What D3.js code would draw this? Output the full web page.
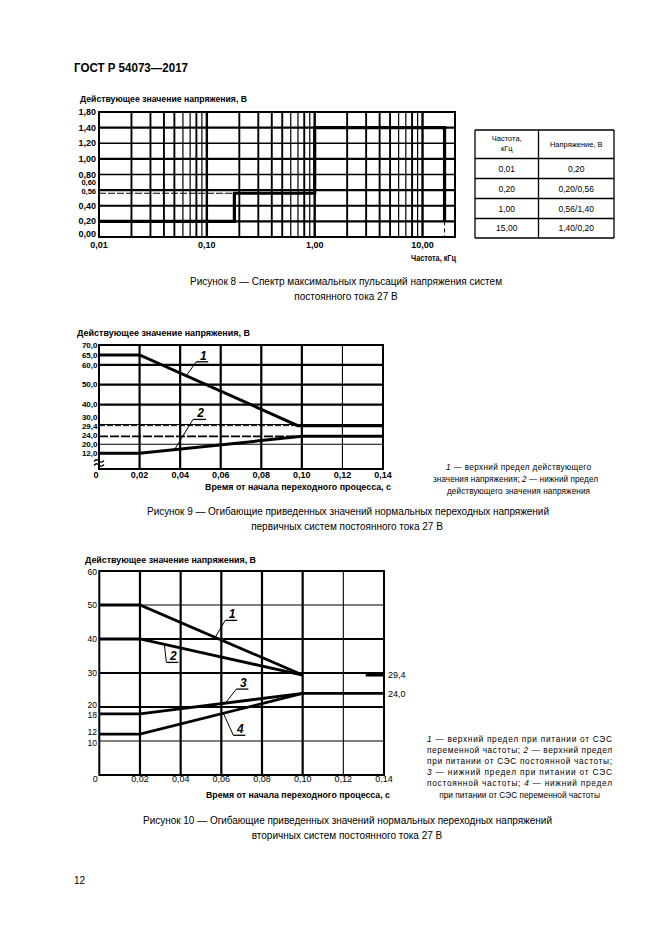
<!DOCTYPE html>
<html><head><meta charset="utf-8">
<script src="https://cdn.jsdelivr.net/npm/d3@7"></script>
<style>
body{margin:0;background:#fff;}
svg text{font-family:"Liberation Sans",Arial,"DejaVu Sans",sans-serif;fill:#000;}
svg text.cond{font-family:"Liberation Sans Narrow","Arial Narrow","Liberation Sans",sans-serif;font-weight:bold;}
</style></head><body>
<svg id="page" width="661" height="935"></svg>
<script>
// ================= DATA =================
// Figure 8 – spectrum of max voltage ripple
const fig8FreqTicks = [0.01, 0.1, 1, 10];
const fig8FreqLabels = ["0,01", "0,10", "1,00", "10,00"];
const fig8VoltTicks = [0, 0.2, 0.4, 0.56, 0.6, 0.8, 1.0, 1.2, 1.4, 1.6];
const fig8VoltLabels = ["0,00", "0,20", "0,40", "0,56", "0,60", "0,80", "1,00", "1,20", "1,40", "1,80"];
const fig8VoltGrid = [0.2, 0.4, 0.6, 0.8, 1.0, 1.2, 1.4];
const fig8StepFreq = [0.01, 0.18, 0.18, 1.0, 1.0, 16, 16];
const fig8StepVolt = [0.20, 0.20, 0.56, 0.56, 1.40, 1.40, 0.20];
const fig8TableFreq = ["0,01", "0,20", "1,00", "15,00"];
const fig8TableVolt = ["0,20", "0,20/0,56", "0,56/1,40", "1,40/0,20"];

// Figure 9 – primary DC systems
const timeTicks = [0, 0.02, 0.04, 0.06, 0.08, 0.10, 0.12, 0.14];
const timeLabels = ["0", "0,02", "0,04", "0,06", "0,08", "0,10", "0,12", "0,14"];
const fig9VoltTicks = [70, 65, 60, 50, 40, 30, 29.4, 24, 20, 12];
const fig9VoltLabels = ["70,0", "65,0", "60,0", "50,0", "40,0", "30,0", "29,4", "24,0", "20,0", "12,0"];
const fig9UpperTime = [0, 0.02, 0.098, 0.14];
const fig9UpperVolt = [65, 65, 29.4, 29.4];
const fig9LowerTime = [0, 0.02, 0.10, 0.14];
const fig9LowerVolt = [12, 12, 24, 24];

// Figure 10 – secondary DC systems
const fig10VoltTicks = [60, 50, 40, 30, 20, 18, 12, 10];
const fig10VoltLabels = ["60", "50", "40", "30", "20", "18", "12", "10"];
const fig10L1Time = [0, 0.02, 0.10];
const fig10L1Volt = [50, 50, 29.4];
const fig10L2Time = [0, 0.02, 0.10];
const fig10L2Volt = [40, 40, 29.4];
const fig10L3Time = [0, 0.02, 0.10, 0.14];
const fig10L3Volt = [18, 18, 24, 24];
const fig10L4Time = [0, 0.02, 0.10];
const fig10L4Volt = [12, 12, 24];
const fig10TailTime = [0.131, 0.14];
const fig10TailVolt = [29.4, 29.4];
const fig10EndLabels = ["29,4", "24,0"];
const fig10EndValues = [29.4, 24];

// ================= HELPERS =================
const svg = d3.select("#page");
svg.append("rect").attr("width", 661).attr("height", 935).attr("fill", "#fff");

function T(g, x, y, content, o = {}) {
  const t = g.append("text").attr("x", x).attr("y", y)
    .attr("font-size", o.size || 10).attr("text-anchor", o.anchor || "start");
  if (o.cls) t.attr("class", o.cls);
  if (o.weight) t.attr("font-weight", o.weight);
  if (o.style) t.attr("font-style", o.style);
  if (o.len) t.attr("textLength", o.len).attr("lengthAdjust", o.adjust || "spacingAndGlyphs");
  if (Array.isArray(content)) {
    content.forEach(p => {
      if (typeof p === "string") t.append("tspan").text(p);
      else t.append("tspan").attr("font-style", "italic").text(p.i);
    });
  } else t.text(content);
  return t;
}
function path(g, xs, ys, xs_, ys_, w, dash) {
  const p = g.append("path")
    .attr("d", d3.line()(xs.map((x, i) => [xs_(x), ys_(ys[i])])))
    .attr("fill", "none").attr("stroke", "#000").attr("stroke-width", w)
    .attr("stroke-linejoin", "miter").attr("stroke-linecap", "butt");
  if (dash) p.attr("stroke-dasharray", dash);
  return p;
}
function seg(g, x1, y1, x2, y2, w, dash) {
  const l = g.append("line").attr("x1", x1).attr("y1", y1).attr("x2", x2).attr("y2", y2)
    .attr("stroke", "#000").attr("stroke-width", w);
  if (dash) l.attr("stroke-dasharray", dash);
  return l;
}
function interp(ts, vs, t) {
  for (let i = 0; i < ts.length - 1; i++) {
    if (t >= ts[i] && t <= ts[i + 1]) {
      const f = (t - ts[i]) / (ts[i + 1] - ts[i]);
      return vs[i] + f * (vs[i + 1] - vs[i]);
    }
  }
  return vs[vs.length - 1];
}
function callout(g, xs_, ys_, ts, vs, t, dx, dy, label, ulen) {
  const px = xs_(t), py = ys_(interp(ts, vs, t));
  const ex = px + dx, ey = py + dy;
  seg(g, px, py, ex, ey, 1);
  seg(g, ex, ey, ex + ulen, ey, 1.3);
  T(g, ex + ulen / 2 + 1, ey - 2, label, { size: 12, weight: "bold", style: "italic", anchor: "middle" });
}
// baseline from desired visual centre
const bl = (c, s) => c + 0.3465 * s;

// ================= PAGE HEADER =================
T(svg, 74, 72, "ГОСТ Р 54073—2017", { size: 12, weight: "bold", len: 114 });
T(svg, 74, 884, "12", { size: 10 });

// ================= FIGURE 8 =================
const g8 = svg.append("g");
const x8 = d3.scaleLog().domain([0.01, 20]).range([99, 455]);
const y8 = d3.scaleLinear().domain([0, 1.6]).range([237, 112]);

x8.ticks().filter(v => v > 0.01 && v < 20).forEach(v => {
  const d = Math.round(v / Math.pow(10, Math.floor(Math.log10(v) + 1e-9)));
  const w = d === 1 ? 2.4 : (d === 6 || d === 7 || d === 9 ? 1.2 : 1.9);
  seg(g8, x8(v), y8(0), x8(v), y8(1.6), w);
});
fig8VoltGrid.forEach(v => {
  const w = (v === 1.2 || v === 0.8) ? 1.4 : 2.2;
  seg(g8, x8(0.01), y8(v), x8(20), y8(v), w);
});
seg(g8, x8(0.01), y8(0.56), x8(fig8StepFreq[1]), y8(0.56), 1, "7,2");
path(g8, fig8StepFreq, fig8StepVolt, x8, y8, 3.2);
seg(g8, x8(fig8StepFreq[5]), y8(0.2), x8(fig8StepFreq[5]), y8(0), 1, "4,3");
g8.append("rect").attr("x", x8(0.01)).attr("y", y8(1.6)).attr("width", x8(20) - x8(0.01))
  .attr("height", y8(0) - y8(1.6)).attr("fill", "none").attr("stroke", "#000").attr("stroke-width", 2);

// tick label centres (tightly stacked labels shifted as in the original)
const centre8 = { 0: 234, 0.56: 191.6, 0.6: 182.9 };
const size8 = { 0.56: 7.5, 0.6: 7.5 };
fig8VoltTicks.forEach((v, i) => {
  const s = size8[v] || 9;
  const c = centre8[v] !== undefined ? centre8[v] : y8(v);
  T(g8, 96, bl(c, s), fig8VoltLabels[i], { size: s, anchor: "end", cls: "cond" });
});
fig8FreqTicks.forEach((v, i) => {
  T(g8, x8(v), 248, fig8FreqLabels[i], { size: 9, anchor: "middle", cls: "cond" });
});
T(g8, 80, 102, "Действующее значение напряжения, В", { size: 9, cls: "cond", len: 167 });
T(g8, 456, 260.5, "Частота, кГц", { size: 9, cls: "cond", anchor: "end", len: 45 });

// table
const tbl = svg.append("g");
const colX = [475, 538.5, 614];
const rowY = [130, 158.5, 178.5, 198.5, 218.5, 238];
rowY.forEach(y => seg(tbl, colX[0], y, colX[2], y, 1.3));
colX.forEach(x => seg(tbl, x, rowY[0], x, rowY[5], 1.3));
T(tbl, (colX[0] + colX[1]) / 2, 141, "Частота,", { size: 7.5, anchor: "middle" });
T(tbl, (colX[0] + colX[1]) / 2, 150.5, "кГц", { size: 7.5, anchor: "middle" });
T(tbl, (colX[1] + colX[2]) / 2, 146.5, "Напряжение, В", { size: 7.5, anchor: "middle" });
fig8TableFreq.forEach((s, i) => {
  const cy = (rowY[i + 1] + rowY[i + 2]) / 2 + 3;
  T(tbl, (colX[0] + colX[1]) / 2, cy, s, { size: 8.5, anchor: "middle" });
  T(tbl, (colX[1] + colX[2]) / 2, cy, fig8TableVolt[i], { size: 8.5, anchor: "middle" });
});

T(svg, 346, 284.5, "Рисунок 8 — Спектр максимальных пульсаций напряжения систем", { size: 10, anchor: "middle", len: 312, adjust: "spacing" });
T(svg, 346, 299.5, "постоянного тока 27 В", { size: 10, anchor: "middle" });

// ================= FIGURE 9 =================
const g9 = svg.append("g");
const x9 = d3.scaleLinear().domain([0, 0.14]).range([99, 383]);
const y9 = d3.scaleLinear().domain([0, 12, 20, 70]).range([469, 453.3, 444.3, 345]);

timeTicks.filter(v => v > 0 && v < 0.14).forEach(v => {
  seg(g9, x9(v), y9(0), x9(v), y9(70), v > 0.11 ? 1.1 : 2.2);
});
[60, 50, 40].forEach(v => seg(g9, x9(0), y9(v), x9(0.14), y9(v), 2.2));
[30, 20].forEach(v => seg(g9, x9(0), y9(v), x9(0.14), y9(v), 1.1));
seg(g9, x9(0), y9(29.4), x9(fig9UpperTime[2]), y9(29.4), 1, "6,2");
seg(g9, x9(0), y9(24), x9(fig9LowerTime[2]), y9(24), 1.8, "9,2");
path(g9, fig9UpperTime, fig9UpperVolt, x9, y9, 3);
path(g9, fig9LowerTime, fig9LowerVolt, x9, y9, 3);
g9.append("rect").attr("x", x9(0)).attr("y", y9(70)).attr("width", x9(0.14) - x9(0))
  .attr("height", y9(0) - y9(70)).attr("fill", "none").attr("stroke", "#000").attr("stroke-width", 2);
// axis-break mark on the value axis
const bx = x9(0), by = y9(5);
g9.append("path").attr("d", d3.line().curve(d3.curveBasis)([[bx - 5, by - 1], [bx - 2, by - 4], [bx + 2, by + 1], [bx + 5, by - 2]]))
  .attr("fill", "none").attr("stroke", "#000").attr("stroke-width", 1.3);
g9.append("path").attr("d", d3.line().curve(d3.curveBasis)([[bx - 5, by + 3], [bx - 2, by], [bx + 2, by + 5], [bx + 5, by + 2]]))
  .attr("fill", "none").attr("stroke", "#000").attr("stroke-width", 1.3);

const centre9 = { 30: 417.4, 29.4: 426.4, 24: 435.4, 20: 444.4, 12: 453.6 };
fig9VoltTicks.forEach((v, i) => {
  const c = centre9[v] !== undefined ? centre9[v] : y9(v);
  T(g9, 97.5, bl(c, 8), fig9VoltLabels[i], { size: 8, anchor: "end", cls: "cond" });
});
timeTicks.forEach((v, i) => {
  T(g9, v === 0 ? x9(v) - 3 : x9(v), 478, timeLabels[i], { size: 9, anchor: "middle", cls: "cond" });
});
T(g9, 77, 336, "Действующее значение напряжения, В", { size: 9, cls: "cond", len: 173 });
T(g9, 391, 489.5, "Время от начала переходного процесса, с", { size: 9, cls: "cond", anchor: "end", len: 186 });
callout(g9, x9, y9, fig9UpperTime, fig9UpperVolt, 0.043, 10, -14, "1", 12);
callout(g9, x9, y9, fig9LowerTime, fig9LowerVolt, 0.037, 19, -31, "2", 13);

// legend 9
T(svg, 518.5, 470, [{ i: "1" }, " — верхний предел действующего"], { size: 8.2, anchor: "middle", len: 145, adjust: "spacing" });
T(svg, 515.5, 482, ["значения напряжения; ", { i: "2" }, " — нижний предел"], { size: 8.2, anchor: "middle", len: 165, adjust: "spacing" });
T(svg, 518.5, 494, "действующего значения напряжения", { size: 8.2, anchor: "middle", len: 143, adjust: "spacing" });

T(svg, 348, 514.5, "Рисунок 9 — Огибающие приведенных значений нормальных переходных напряжений", { size: 10, anchor: "middle", len: 402, adjust: "spacing" });
T(svg, 347, 529.5, "первичных систем постоянного тока 27 В", { size: 10, anchor: "middle" });

// ================= FIGURE 10 =================
const g10 = svg.append("g");
const x10 = d3.scaleLinear().domain([0, 0.14]).range([99.3, 384]);
const y10 = d3.scaleLinear().domain([0, 60]).range([775, 571]);

timeTicks.filter(v => v > 0 && v < 0.14).forEach(v => {
  seg(g10, x10(v), y10(0), x10(v), y10(60), v > 0.11 ? 1.1 : 2.2);
});
[50, 10].forEach(v => seg(g10, x10(0), y10(v), x10(0.14), y10(v), 1.1));
[40, 30, 20].forEach(v => seg(g10, x10(0), y10(v), x10(0.14), y10(v), 2.2));
path(g10, fig10L1Time, fig10L1Volt, x10, y10, 2.8);
path(g10, fig10L2Time, fig10L2Volt, x10, y10, 2.8);
path(g10, fig10L3Time, fig10L3Volt, x10, y10, 2.8);
path(g10, fig10L4Time, fig10L4Volt, x10, y10, 2.8);
path(g10, fig10TailTime, fig10TailVolt, x10, y10, 3);
g10.append("rect").attr("x", x10(0)).attr("y", y10(60)).attr("width", x10(0.14) - x10(0))
  .attr("height", y10(0) - y10(60)).attr("fill", "none").attr("stroke", "#000").attr("stroke-width", 2);

const shift10 = { 60: 1.5, 20: -1.7, 18: 1.7, 12: -1.7, 10: 1.7 };
fig10VoltTicks.forEach((v, i) => {
  T(g10, 97, bl(y10(v) + (shift10[v] || 0), 8.5), fig10VoltLabels[i], { size: 8.5, anchor: "end" });
});
timeTicks.forEach((v, i) => {
  T(g10, v === 0 ? x10(v) - 4 : x10(v), 782, timeLabels[i], { size: 9, anchor: "middle" });
});
fig10EndValues.forEach((v, i) => {
  T(g10, 388, bl(y10(v), 9), fig10EndLabels[i], { size: 9 });
});
T(g10, 85, 563, "Действующее значение напряжения, В", { size: 9, cls: "cond", len: 171 });
T(g10, 390, 798, "Время от начала переходного процесса, с", { size: 9, cls: "cond", anchor: "end", len: 184 });
callout(g10, x10, y10, fig10L1Time, fig10L1Volt, 0.057, 10, -17, "1", 12);
callout(g10, x10, y10, fig10L2Time, fig10L2Volt, 0.032, 2, 18, "2", 12);
callout(g10, x10, y10, fig10L3Time, fig10L3Volt, 0.062, 11, -14, "3", 12);
callout(g10, x10, y10, fig10L4Time, fig10L4Volt, 0.061, 10, 22, "4", 12);

// legend 10
const lg = svg.append("g");
T(lg, 427, 742, [{ i: "1" }, " — верхний предел при питании от СЭС"], { size: 8.3, len: 185, adjust: "spacing" });
T(lg, 427, 753, ["переменной частоты; ", { i: "2" }, " — верхний предел"], { size: 8.3, len: 185, adjust: "spacing" });
T(lg, 427, 764, "при питании от СЭС постоянной частоты;", { size: 8.3, len: 185, adjust: "spacing" });
T(lg, 427, 775, [{ i: "3" }, " — нижний предел при питании от СЭС"], { size: 8.3, len: 185, adjust: "spacing" });
T(lg, 427, 786, ["постоянной частоты; ", { i: "4" }, " — нижний предел"], { size: 8.3, len: 185, adjust: "spacing" });
T(lg, 519.5, 798, "при питании от СЭС переменной частоты", { size: 8.3, anchor: "middle" });

T(svg, 347.5, 823.5, "Рисунок 10 — Огибающие приведенных значений нормальных переходных напряжений", { size: 10, anchor: "middle", len: 409, adjust: "spacing" });
T(svg, 347, 838.5, "вторичных систем постоянного тока 27 В", { size: 10, anchor: "middle" });
</script></body></html>
